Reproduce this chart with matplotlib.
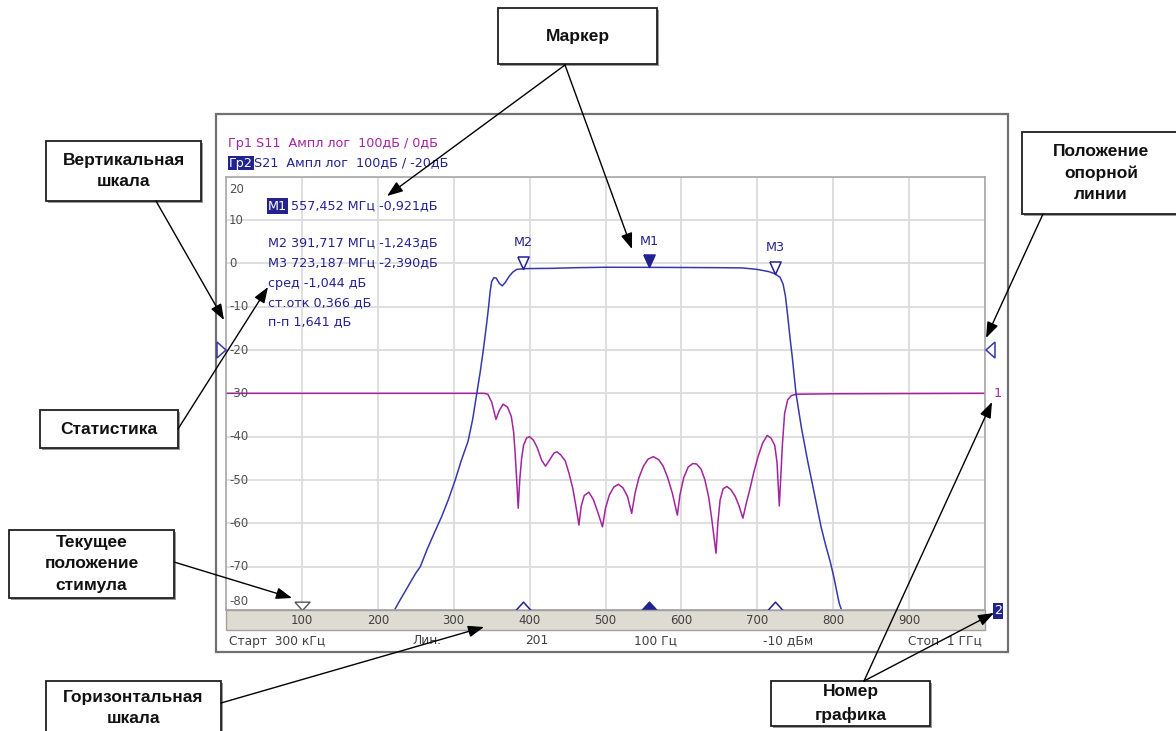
import matplotlib.pyplot as plt
from matplotlib.patches import Rectangle, Polygon

W, H = 1176, 731

# stimulus grid (MHz) and response grid (dB)
X_TICKS = [100, 200, 300, 400, 500, 600, 700, 800, 900]
Y_TICKS = [20, 10, 0, -10, -20, -30, -40, -50, -60, -70, -80]

# Tr2: S21 (transmission)
S21_FREQ = [222, 230, 240, 250, 256, 265, 275, 284, 293, 302, 310, 319, 325, 330,
            335, 339, 343, 346, 348, 350, 353, 356, 360, 364, 368, 373, 378, 383,
            392, 400, 430, 460, 500, 557, 600, 650, 680, 700, 715, 723, 730, 734,
            737, 740, 743, 746, 751, 758, 766, 775, 784, 790, 796, 801, 805, 808, 811]
S21_DB = [-80, -77.5, -74.5, -71.5, -70, -66, -62, -58.5, -54.5, -50, -45.5, -41,
          -36, -30.5, -25, -20, -14.5, -10, -6.5, -4.2, -3.3, -3.4, -4.6, -5.2, -4.4,
          -3.0, -2.0, -1.4, -1.24, -1.2, -1.15, -1.0, -0.9, -0.92, -0.95, -1.0, -1.05,
          -1.4, -1.9, -2.39, -3.2, -4.8, -7.5, -12, -17, -21.5, -30, -37.8, -45.3,
          -53, -60.8, -65, -68.8, -72.5, -76, -78.5, -80]

# Tr1: S11 (reflection)
S11_FREQ = [0, 340, 345, 350, 355.7, 360, 365, 371, 376, 379, 381, 383, 385, 387,
            389.5, 392, 396, 400, 405, 410, 416, 421, 427, 432, 436, 441, 447, 452,
            457, 461, 465, 468, 472, 478, 484, 490, 496, 500, 505, 511, 517, 523,
            529, 534.5, 539, 544, 550, 556, 563, 570, 576, 582, 588, 594.7, 598,
            603, 609, 615, 620, 626, 631, 636, 640, 645.6, 648, 651, 655, 660, 665,
            671, 676, 681, 686, 690, 695, 701, 707, 713, 718, 723, 726, 729, 731,
            733, 736, 740, 745, 752, 800, 1000]
S11_DB = [-30, -30, -30.2, -32, -36, -34, -32.5, -33.2, -35.4, -39, -44, -50, -56.5,
          -50, -45, -42, -40.3, -40, -40.8, -42.5, -45.5, -46.8, -45.2, -43.8, -43.5,
          -44.2, -45.6, -48.5, -52, -56, -60.4, -56, -53.6, -52.8, -54.5, -57.5,
          -60.8, -56.5, -53.5, -51.6, -51, -51.8, -53.8, -57.7, -53, -49.5, -46.8,
          -45.2, -44.6, -45.3, -46.8, -49.5, -53, -58.1, -53.5, -49.5, -47, -46.2,
          -46.3, -47.5, -50, -54, -59, -66.9, -60, -54.6, -52, -51.5, -52.2, -53.8,
          -56, -58.8, -55, -52.3, -48.5, -44.6, -41.5, -39.7, -40.3, -42, -46, -56,
          -49, -42, -34.6, -31.5, -30.5, -30.2, -30.1, -30]

MARKER_NAMES = ["M1", "M2", "M3"]
MARKER_FREQ = [557.452, 391.717, 723.187]
MARKER_DB = [-0.921, -1.243, -2.390]

STAT_NAMES = ["сред", "ст.отк", "п-п"]
STAT_VALUES = [-1.044, 0.366, 1.641]

CURRENT_STIM = 100
REF_LEVEL = -20
TR1_POS = -30

C_S11 = "#a3249e"
C_S21 = "#3838aa"
NAVY = "#23238f"
SCREEN_FONT = "DejaVu Sans"
FS = 9.2


def comma(v, nd):
    return f"{v:.{nd}f}".replace(".", ",")


fig = plt.figure(figsize=(W / 100, H / 100), dpi=100)

# ---- analyzer graph ----
ax = fig.add_axes([226 / W, 1 - 610 / H, 759 / W, 433.3 / H])
ax.set_xlim(0, 1000)
ax.set_ylim(-80, 20)
ax.set_xticks(range(0, 1001, 100))
ax.set_yticks(Y_TICKS)
ax.grid(color="#dcdcdc", lw=1.3)
ax.set_axisbelow(True)
ax.tick_params(length=0, labelbottom=False, labelleft=False)
for s in ax.spines.values():
    s.set_color("#a8a8a8")
    s.set_linewidth(1.2)

ax.plot(S11_FREQ, S11_DB, color=C_S11, lw=1.1)
ax.plot(S21_FREQ, S21_DB, color=C_S21, lw=1.1)

# y scale labels inside the graph
ytr = ax.get_yaxis_transform()
for v in Y_TICKS:
    dy = 0
    if v == Y_TICKS[0]:
        dy = -3
    if v == Y_TICKS[-1]:
        dy = 2
    ax.text(0.004, v + dy, str(v), transform=ytr, ha="left", va="center",
            fontsize=8.5, color="#505050", family=SCREEN_FONT)

# markers on the trace (tip on the trace)
tri_down = [(-0.9, 2), (0.9, 2), (0, 0), (-0.9, 2)]
tri_up = [(-1, 0), (1, 0), (0, 1.1), (-1, 0)]
tri_dn_flat = [(-1, 1.1), (1, 1.1), (0, 0), (-1, 1.1)]
for i, (name, f, v) in enumerate(zip(MARKER_NAMES, MARKER_FREQ, MARKER_DB)):
    face = NAVY if i == 0 else "white"
    ax.plot(f, v, marker=tri_down, ms=18, mfc=face, mec=NAVY, mew=1.1, zorder=5)
    ax.annotate(name, (f, v), xytext=(0, 14), textcoords="offset points",
                ha="center", va="bottom", fontsize=FS, color=NAVY,
                family=SCREEN_FONT)
    ax.plot(f, -80, marker=tri_up, ms=12, mfc=face, mec=NAVY, mew=1.1,
            clip_on=False, zorder=5)
ax.plot(CURRENT_STIM, -80, marker=tri_dn_flat, ms=12, mfc="white", mec="#555555",
        mew=1.0, clip_on=False, zorder=5)

# ---- overlay in pixel coordinates ----
ov = fig.add_axes([0, 0, 1, 1], zorder=10)
ov.set_xlim(0, W)
ov.set_ylim(H, 0)
ov.axis("off")
ov.patch.set_alpha(0)

ov.add_patch(Rectangle((216, 114), 792, 538, fill=False, ec="#707070", lw=1.6))
ov.add_patch(Rectangle((226, 610), 759, 20, fc="#dedbd3", ec="#a0a0a0", lw=1.0))


def px_x(f):
    return 226 + f * 0.759


def px_y(v):
    return 176.7 + (20 - v) * 4.333


for t in X_TICKS:
    ov.text(px_x(t), 620.5, str(t), ha="center", va="center", fontsize=8.5,
            color="#404040", family=SCREEN_FONT)

stat_y = 641
status = [
    (229, "Старт  300 кГц", "left"),
    (412, "Лин.", "left"),
    (537, "201", "center"),
    (655, "100 Гц", "center"),
    (788, "-10 дБм", "center"),
    (982, "Стоп  1 ГГц", "right"),
]
for x, s, ha in status:
    ov.text(x, stat_y, s, ha=ha, va="center", fontsize=8.8, color="#404040",
            family=SCREEN_FONT)

# trace headers
ov.text(228, 143, "Гр1 S11  Ампл лог  100дБ / 0дБ", ha="left", va="center",
        fontsize=FS, color=C_S11, family=SCREEN_FONT)
ov.text(229, 163, "Гр2", ha="left", va="center", fontsize=FS, color="white",
        family=SCREEN_FONT, bbox=dict(boxstyle="square,pad=0.05", fc=NAVY, ec="none"))
ov.text(254, 163, "S21  Ампл лог  100дБ / -20дБ", ha="left", va="center",
        fontsize=FS, color=NAVY, family=SCREEN_FONT)

# marker readouts
ov.text(268, 206, MARKER_NAMES[0], ha="left", va="center", fontsize=FS,
        color="white", family=SCREEN_FONT,
        bbox=dict(boxstyle="square,pad=0.08", fc=NAVY, ec="none"))
ov.text(291, 206, f"{comma(MARKER_FREQ[0], 3)} МГц {comma(MARKER_DB[0], 3)}дБ",
        ha="left", va="center", fontsize=FS, color=NAVY, family=SCREEN_FONT)
for k, i in enumerate([1, 2]):
    ov.text(268, 243 + 20 * k,
            f"{MARKER_NAMES[i]} {comma(MARKER_FREQ[i], 3)} МГц {comma(MARKER_DB[i], 3)}дБ",
            ha="left", va="center", fontsize=FS, color=NAVY, family=SCREEN_FONT)
for k, (n, v) in enumerate(zip(STAT_NAMES, STAT_VALUES)):
    ov.text(268, 283 + 19.5 * k, f"{n} {comma(v, 3)} дБ", ha="left", va="center",
            fontsize=FS, color=NAVY, family=SCREEN_FONT)

# reference position triangles, trace numbers
ry = px_y(REF_LEVEL)
ov.add_patch(Polygon([(217, ry - 8), (217, ry + 8), (226, ry)], closed=True,
                     fc="white", ec=C_S21, lw=1.1))
ov.add_patch(Polygon([(995, ry - 8), (995, ry + 8), (986, ry)], closed=True,
                     fc="white", ec=C_S21, lw=1.1))
ov.text(998, px_y(TR1_POS), "1", ha="center", va="center", fontsize=FS,
        color=C_S11, family=SCREEN_FONT)
ov.text(998, 611, "2", ha="center", va="center", fontsize=FS, color="white",
        family=SCREEN_FONT, bbox=dict(boxstyle="square,pad=0.1", fc=NAVY, ec="none"))

# ---- callout boxes ----
callouts = [
    ("Маркер", (498, 8, 657, 64)),
    ("Вертикальная\nшкала", (46, 141, 201, 201)),
    ("Статистика", (40, 410, 178, 448)),
    ("Текущее\nположение\nстимула", (9, 530, 174, 598)),
    ("Горизонтальная\nшкала", (46, 681, 221, 735)),
    ("Положение\nопорной\nлинии", (1022, 132, 1180, 214)),
    ("Номер\nграфика", (771, 681, 930, 726)),
]
for label, (x0, y0, x1, y1) in callouts:
    ov.add_patch(Rectangle((x0 + 2, y0 + 2), x1 - x0, y1 - y0, fc="#9a9a9a",
                           ec="none", clip_on=False))
    ov.add_patch(Rectangle((x0, y0), x1 - x0, y1 - y0, fc="white", ec="#202020",
                           lw=1.3))
    ov.text((x0 + x1) / 2, (y0 + y1) / 2, label, ha="center", va="center",
            fontsize=12.5, fontweight="bold", family="Liberation Sans",
            linespacing=1.55, color="#111111")

arrows = [
    ((565, 65), (387, 196)),
    ((565, 65), (632, 249)),
    ((156, 201), (224, 320)),
    ((178, 429), (268, 287)),
    ((174, 562), (292, 598)),
    ((221, 703), (484, 627)),
    ((1043, 214), (986, 338)),
    ((864, 681), (992, 402)),
    ((864, 681), (994, 613)),
]
for start, end in arrows:
    ov.annotate("", xy=end, xytext=start,
                arrowprops=dict(arrowstyle="-|>,head_length=0.6,head_width=0.22",
                                mutation_scale=16, color="black", lw=1.0,
                                shrinkA=0, shrinkB=0))

fig.savefig("out.png", dpi=100)
